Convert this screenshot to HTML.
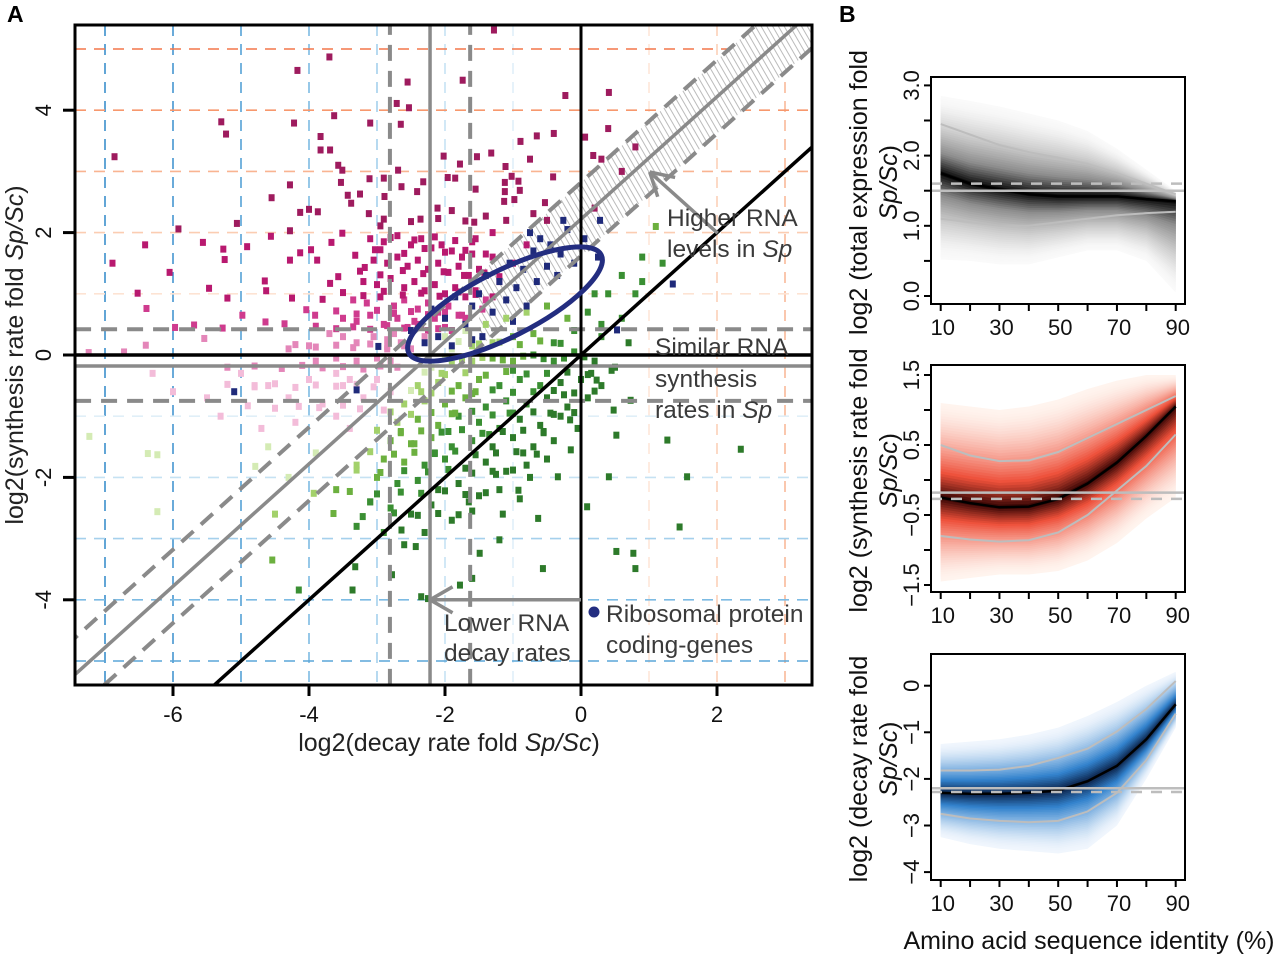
<!DOCTYPE html>
<html><head><meta charset="utf-8">
<style>
html,body{margin:0;padding:0;background:#fff;}
svg{display:block;font-family:"Liberation Sans",Arial,sans-serif;}
</style></head>
<body>
<svg id="fig" width="1280" height="957" viewBox="0 0 1280 957" xmlns="http://www.w3.org/2000/svg">
<defs>
<clipPath id="clipA"><rect x="75" y="25" width="737" height="660"/></clipPath>
<pattern id="hatch" width="5" height="5" patternUnits="userSpaceOnUse" patternTransform="rotate(-30)">
<rect width="5" height="5" fill="#fff"/><line x1="1" y1="0" x2="1" y2="5" stroke="#aaa" stroke-width="0.8"/></pattern>
</defs>
</svg>
<script>
// ---------- Panel A data ----------
const magentaX=[-3.70,-4.17,-2.55,-1.74,-2.71,-2.53,-1.28,-0.23,0.41,-5.29,-5.22,-4.22,-3.63,-3.10,-2.65,-3.83,-3.83,-3.69,-6.86,-3.57,-3.51,-2.02,-1.78,-1.53,-1.32,-0.89,-0.65,-0.40,0.06,0.18,-0.75,-1.11,-1.02,-0.92,-0.41,-1.96,-1.85,-2.69,-2.90,-3.11,-4.28,-3.53,-2.64,-2.32,-2.41,-1.55,-1.12,-1.12,-0.90,-4.55,-3.43,-3.25,-2.89,-3.38,-1.13,-0.98,-0.53,-4.13,-4.00,-3.87,-3.12,-2.11,-1.90,-0.70,-5.06,-5.92,-4.28,-2.95,-2.36,-1.57,-1.40,-5.56,-6.41,-5.26,-5.24,-4.91,-4.56,-3.51,-3.67,-3.97,-4.13,-3.32,-3.18,-3.03,-6.89,-6.05,-5.47,-5.20,-6.52,-6.39,-4.65,-4.63,-4.28,-3.88,-3.80,-3.69,-3.57,-4.98,-4.64,-4.36,-4.04,-3.91,-4.25,-5.97,-5.69,-5.27,-5.54,-6.40,-6.72,-7.24,
-3.1,-2.9,-2.7,-2.5,-2.35,-2.2,-2.05,-1.9,-1.75,-1.6,-3.05,-2.85,-2.7,-2.55,-2.4,-2.25,-2.1,-1.95,-1.8,-1.65,-1.5,-3.2,-3.0,-2.8,-2.6,-2.45,-2.3,-2.15,-2.0,-1.85,-1.7,-1.55,-1.4,-3.35,-3.15,-2.95,-2.75,-2.6,-2.4,-2.25,-2.1,-1.95,-1.8,-3.5,-3.3,-3.1,-2.9,-2.7,-2.55,-2.4,-2.25,-3.7,-3.5,-3.3,-3.05,-2.85,-2.65,-2.5,-4.0,-4.3,-3.9,-3.6,-3.3,-3.0,-2.8,
-5.0,-4.6,-4.3,-4.0,-3.8,-3.5,-3.2,-3.0,-2.9,-3.6,-4.2,-5.5,-6.0,-6.3,-5.3,-4.7,-3.4,-2.8,-1.2,-1.0,-0.8,-0.5,0.2,0.6,0.3,0.4,0.8,-1.3,-1.1,
-2.75,-2.45,-2.0,-1.7,-1.45,-2.6,-2.3,-1.9,-2.15,-2.85,-1.3,-1.6,-3.4,-3.6,-4.8,-5.2,
-2.95,-2.6,-2.3,-2.0,-1.7,-1.4,-3.25,-2.95,-2.62,-2.32,-2.02,-1.72,-1.42,-1.2,-3.5,-3.2,-2.9,-2.62,-2.35,-2.08,-1.8,-1.55,-1.3,
-3.6,-3.3,-3.0,-2.75,-2.5,-2.25,-2.0,-1.75,-3.9,-3.6,-3.35,-3.1,-2.85,-2.6,-2.35,-2.1,-4.2,-3.9,-3.6,-3.35,-3.1,-2.85,-2.6,
-4.8,-4.4,-4.1,-3.8,-3.5,-3.2,-2.95,-2.7,-5.2,-4.8,-4.5,-4.2,-3.9,-3.6,-3.3,-3.05,-4.9,-4.5,-4.15,-3.85,-3.5,-3.25,
-2.8,-2.45,-2.15,-1.85,-1.55,-2.9,-2.5,-2.1,-1.7];
const magentaY=[4.87,4.65,4.46,4.49,4.11,4.04,5.31,4.24,4.29,3.81,3.61,3.79,3.91,3.79,3.77,3.57,3.35,3.35,3.24,3.10,3.02,3.25,3.12,3.24,3.30,3.49,3.58,3.62,3.56,3.26,3.20,3.08,2.92,2.84,2.91,2.90,2.89,3.02,2.89,2.88,2.78,2.82,2.75,2.83,2.67,2.71,2.82,2.67,2.69,2.57,2.61,2.63,2.59,2.48,2.51,2.54,2.49,2.33,2.38,2.34,2.31,2.40,2.36,2.31,2.15,2.06,2.03,2.11,2.22,2.17,2.27,1.84,1.80,1.73,1.56,1.77,1.94,1.99,1.84,1.72,1.67,1.63,1.43,1.72,1.50,1.35,1.09,0.93,1.01,0.76,1.21,1.05,1.55,1.55,0.91,1.17,1.28,0.65,0.54,0.51,0.74,0.65,0.93,0.45,0.49,0.44,0.27,0.16,0.05,0.04,
1.9,1.85,1.95,1.8,1.9,1.75,1.8,1.7,1.6,1.65,1.55,1.5,1.6,1.45,1.55,1.4,1.5,1.35,1.45,1.3,1.4,1.2,1.15,1.25,1.1,1.2,1.05,1.15,1.0,1.1,0.95,1.05,0.9,0.9,0.85,0.95,0.8,0.9,0.75,0.85,0.7,0.8,0.65,0.6,0.55,0.65,0.5,0.6,0.45,0.5,0.4,0.35,0.3,0.2,0.3,0.25,0.2,0.1,0.15,0.1,-0.1,-0.05,-0.1,-0.05,-0.1,
-0.3,-0.5,-0.7,-0.4,-0.8,-0.5,-0.7,-0.4,-0.9,-1.0,-1.1,-0.7,-0.6,-0.3,-1.0,-1.2,-1.2,-0.6,1.2,1.5,1.8,2.2,2.4,3.0,3.2,3.7,3.4,2.0,2.2,
0.35,0.55,0.45,0.6,0.75,0.15,0.3,0.4,0.6,0.1,1.6,1.85,-0.4,-0.3,-0.5,-0.2,
1.72,1.66,1.74,1.68,1.71,1.65,1.37,1.31,1.38,1.33,1.36,1.3,1.34,1.28,1.02,0.97,1.04,0.98,1.01,0.96,1.03,0.99,0.95,
0.72,0.67,0.73,0.68,0.71,0.66,0.7,0.65,0.47,0.43,0.46,0.42,0.48,0.44,0.47,0.43,0.17,0.13,0.16,0.12,0.18,0.14,0.16,
-0.18,-0.22,-0.17,-0.21,-0.19,-0.23,-0.18,-0.2,-0.48,-0.52,-0.47,-0.53,-0.49,-0.51,-0.48,-0.52,-0.83,-0.87,-0.84,-0.86,-0.82,-0.88,
1.92,1.88,1.93,1.87,1.9,2.22,2.18,2.23,2.19];
const greenX=[-7.23,-6.37,-6.23,-6.23,-4.79,-4.54,-4.15,-3.36,-2.35,-2.25,-3.32,-2.78,-1.78,-1.60,-0.56,0.52,0.77,0.80,1.45,2.35,1.27,1.56,0.52,0.41,0.09,-0.16,-0.34,-0.63,-0.92,-1.20,-1.49,-2.43,-2.64,-3.21,-3.64,-3.93,0.23,0.48,0.73,
-2.0,-1.7,-1.4,-1.1,-0.8,-0.5,-0.2,-1.9,-1.6,-1.3,-1.0,-0.7,-0.4,-0.1,0.1,0.4,0.6,0.9,0.8,0.3,1.1,
-2.2,-1.9,-1.6,-1.3,-1.0,-0.7,-0.4,-0.1,0.2,0.5,-2.4,-2.1,-1.8,-1.5,-1.2,-0.9,-0.6,-0.3,0.0,0.3,
-2.6,-2.3,-2.0,-1.7,-1.4,-1.1,-0.8,-0.5,-0.2,0.1,-2.7,-2.4,-2.1,-1.8,-1.5,-1.2,-0.9,-0.6,-0.3,-0.05,
-2.8,-2.5,-2.2,-1.9,-1.6,-1.3,-1.0,-0.7,-0.4,-2.9,-2.6,-2.3,-2.0,-1.7,-1.4,-1.1,-0.8,-0.5,
-3.0,-2.7,-2.4,-2.1,-1.8,-1.5,-1.2,-0.9,-3.1,-2.8,-2.5,-2.2,-1.9,-1.6,-3.3,-2.9,-2.6,-2.3,
-4.6,-4.3,-3.9,-3.6,-3.3,-4.5,-3.1,-2.05,-1.55,-1.05,-0.55,-2.35,-1.85,-1.35,-0.85,-2.65,-2.15,-1.25,-0.75,-0.25,-1.65,-1.15,-2.45,-1.95,-0.45,0.15,-1.0,-0.15,
-1.8,-1.5,-1.2,-0.9,-0.6,-0.3,-2.0,-1.75,-1.45,-1.15,-0.85,-0.55,-0.25,0.05,-2.3,-2.0,-1.7,-1.4,-1.1,-0.8,-0.5,-0.2,0.1,
-2.5,-2.2,-1.9,-1.6,-1.3,-1.0,-0.7,-0.4,-0.1,0.2,-2.8,-2.5,-2.2,-1.9,-1.6,-1.3,-1.0,-0.7,-0.4,-0.1,
-3.0,-2.65,-2.35,-2.05,-1.75,-1.45,-1.15,-0.85,-0.55,-3.1,-2.75,-2.45,-2.15,-1.85,-1.55,-1.25,-0.95,-0.65,
-3.3,-2.95,-2.6,-2.25,-1.95,-1.6,-1.3,-1.0,-3.4,-3.0,-2.65,-2.35,-2.0,-1.7,-1.4,-2.75,-2.4,-2.1,-1.8,
0.3,0.6,0.2,0.9,1.2,0.45,0.7];
const greenY=[-1.33,-1.61,-1.63,-2.56,-1.82,-3.35,-3.84,-3.84,-3.95,-3.98,-3.46,-3.59,-3.76,-3.65,-3.49,-3.21,-3.24,-3.49,-2.81,-1.54,-1.39,-1.99,-1.31,-1.99,-2.48,-1.06,-1.99,-2.67,-2.21,-3.02,-3.24,-3.13,-2.86,-2.64,-2.59,-2.26,-0.41,-0.90,-0.74,
0.3,0.4,0.5,0.6,0.7,0.8,0.6,0.1,0.15,0.2,0.3,0.35,0.2,0.4,0.7,1.0,1.3,1.6,1.0,0.5,2.1,
-0.2,-0.15,-0.1,-0.05,-0.1,0.0,-0.1,0.05,-0.1,-0.2,-0.5,-0.45,-0.5,-0.4,-0.5,-0.4,-0.5,-0.45,-0.4,-0.5,
-0.8,-0.75,-0.8,-0.7,-0.85,-0.75,-0.8,-0.7,-0.85,-0.7,-1.1,-1.05,-1.15,-1.0,-1.1,-1.2,-1.05,-1.15,-1.0,-1.2,
-1.4,-1.45,-1.35,-1.5,-1.4,-1.5,-1.35,-1.5,-1.4,-1.7,-1.75,-1.8,-1.7,-1.85,-1.75,-1.9,-1.8,-1.7,
-2.0,-2.1,-2.05,-2.2,-2.1,-2.3,-2.2,-2.35,-2.4,-2.5,-2.6,-2.45,-2.7,-2.55,-2.8,-2.9,-3.1,-2.9,
-1.5,-2.0,-1.6,-2.2,-1.8,-2.6,-2.4,-0.3,-0.6,-0.95,-1.25,-0.6,-0.95,-1.3,-1.6,-1.25,-1.6,-1.95,-2.0,-0.65,-2.4,-2.6,-1.45,-1.25,-0.95,-0.3,-0.25,-1.55,
0.22,0.18,0.21,0.17,0.23,0.19,-0.03,-0.07,-0.04,-0.08,-0.02,-0.06,-0.05,-0.03,-0.28,-0.32,-0.29,-0.33,-0.27,-0.31,-0.3,-0.28,-0.32,
-0.58,-0.62,-0.59,-0.63,-0.57,-0.61,-0.6,-0.58,-0.62,-0.59,-0.93,-0.97,-0.94,-0.96,-0.92,-0.98,-0.95,-0.93,-0.97,-0.94,
-1.23,-1.27,-1.24,-1.26,-1.22,-1.28,-1.25,-1.23,-1.27,-1.58,-1.62,-1.59,-1.61,-1.57,-1.63,-1.6,-1.58,-1.62,
-1.88,-1.92,-1.89,-1.91,-1.87,-1.93,-1.9,-1.88,-2.23,-2.27,-2.24,-2.26,-2.22,-2.28,-2.25,-2.58,-2.62,-2.59,-2.61,
0.3,0.6,1.0,1.2,1.5,-0.25,0.2];
const riboX=[-2.5,-2.3,-2.1,-2.0,-1.9,-1.7,-1.6,-1.5,-1.45,-1.3,-1.2,-1.1,-1.05,-0.95,-0.85,-0.8,-0.7,-0.65,-0.6,-0.5,-0.45,-0.35,-0.3,-0.2,-0.1,0.05,0.25,-1.85,-1.4,-1.0,-2.2,-0.75,-1.6,-5.1,-3.3,-2.98,1.35,0.53,0.28,-0.26];
const riboY=[0.4,0.2,0.3,0.6,0.15,0.5,0.8,1.0,0.3,0.7,1.2,0.9,1.5,1.1,1.4,0.8,1.7,1.2,1.9,1.45,1.8,1.3,1.65,2.05,1.5,1.9,1.6,0.95,1.3,0.55,0.75,2.0,0.25,-0.6,-0.57,0.14,1.16,0.41,2.2,2.2];
const xTicksA=[-6,-4,-2,0,2];
const yTicksA=[4,2,0,-2,-4];

// ---------- Panel B data ----------
const identity=[10,20,30,40,50,60,70,80,90];
const totMed=[1.75,1.6,1.52,1.45,1.42,1.42,1.42,1.38,1.35];
const totHi=[2.85,2.78,2.7,2.6,2.5,2.35,2.1,1.8,1.5];
const totLo=[0.52,0.5,0.45,0.45,0.55,0.65,0.65,0.5,0.05];
const totQhi=[2.45,2.3,2.15,2.05,1.97,1.88,1.75,1.6,1.45];
const totQlo=[1.1,1.05,1.0,1.0,1.05,1.1,1.15,1.18,1.2];
const synMed=[-0.25,-0.33,-0.39,-0.38,-0.27,-0.05,0.25,0.63,1.05];
const synHi=[1.1,1.05,1.0,1.05,1.15,1.3,1.42,1.5,1.5];
const synLo=[-1.45,-1.4,-1.35,-1.35,-1.3,-1.15,-0.9,-0.55,-0.25];
const synQhi=[0.5,0.35,0.27,0.28,0.4,0.6,0.8,1.0,1.2];
const synQlo=[-0.8,-0.85,-0.88,-0.86,-0.75,-0.5,-0.15,0.2,0.65];
const decMed=[-2.3,-2.32,-2.32,-2.3,-2.25,-2.05,-1.72,-1.15,-0.4];
const decHi=[-1.25,-1.2,-1.15,-1.05,-0.9,-0.65,-0.35,0.0,0.3];
const decLo=[-3.25,-3.4,-3.5,-3.55,-3.6,-3.5,-3.0,-2.0,-0.9];
const decQhi=[-1.82,-1.82,-1.8,-1.72,-1.55,-1.35,-0.98,-0.5,0.1];
const decQlo=[-2.75,-2.85,-2.9,-2.93,-2.9,-2.7,-2.3,-1.6,-0.6];
const totRef=[1.5,1.6];
const synRef=[-0.18,-0.27];
const decRef=[-2.2,-2.28];

const NS='http://www.w3.org/2000/svg';
const svg=document.getElementById('fig');
function mk(tag,attrs,parent){const e=document.createElementNS(NS,tag);for(const k in attrs)e.setAttribute(k,attrs[k]);(parent||svg).appendChild(e);return e;}

// ---------- Panel A ----------
const ax=x=>581+68*x, ay=y=>355-61.2*y;
const X0=-7.44,X1=3.4,Y0=-5.39,Y1=5.39;
const gA=mk('g',{});


const plotA=mk('g',{'clip-path':'url(#clipA)'},gA);



const vBlue=[-7,-6,-5,-4,-3,-2,-1], vBlueC=['#3b8fcc','#4596d0','#55a2d6','#7dbbe3','#a5d0ec','#c6e2f3','#dfeef8'];
vBlue.forEach((v,i)=>{const l=mk('line',{x1:ax(v),x2:ax(v),y1:25,y2:685,stroke:vBlueC[i],'stroke-width':1.6,'stroke-dasharray':'11 8'},plotA);

});
const vOr=[1,2,3], vOrC=['#fde6d8','#fbd0b8','#f8b999'];
vOr.forEach((v,i)=>{const l=mk('line',{x1:ax(v),x2:ax(v),y1:25,y2:685,stroke:vOrC[i],'stroke-width':1.6,'stroke-dasharray':'11 8'},plotA);

});
const hOr=[1,2,3,4,5], hOrC=['#fde3d3','#fbcdb2','#f9b491','#f7986d','#f4774a'];
hOr.forEach((v,i)=>{const l=mk('line',{x1:75,x2:812,y1:ay(v),y2:ay(v),stroke:hOrC[i],'stroke-width':1.6,'stroke-dasharray':'11 8'},plotA);

});
const hBl=[-1,-2,-3,-4,-5], hBlC=['#e0eff8','#c6e2f3','#a5d0ec','#7dbbe3','#5aa6d8'];
hBl.forEach((v,i)=>{const l=mk('line',{x1:75,x2:812,y1:ay(v),y2:ay(v),stroke:hBlC[i],'stroke-width':1.6,'stroke-dasharray':'11 8'},plotA);

});

const off=2.22, bw=0.6, hs=-1.5;
const hatch=mk('polygon',{points:[[hs,hs+off+bw],[X1+1,X1+1+off+bw],[X1+1,X1+1+off-bw],[hs,hs+off-bw]].map(p=>ax(p[0])+','+ay(p[1])).join(' '),fill:'url(#hatch)'},plotA);



function magCol(x,y){return y>2?'#9e1b5e':y>0.9?'#b8196f':y>0.35?'#cf3b8e':y>-0.3?'#e486b9':'#f3bcd9';}
function grnCol(x,y){const g=(x+2.2)-y;return g>2.2?'#2d7a2a':g>1.4?'#3a8f33':g>0.8?'#6cb03f':g>0.3?'#a3d16b':'#d4ebb4';}
const ptsG=mk('g',{},plotA);


magentaX.forEach((x,i)=>{const y=magentaY[i];const r=mk('rect',{x:ax(x)-3,y:ay(y)-3.5,width:6,height:7,fill:magCol(x,y)},ptsG);

});
greenX.forEach((x,i)=>{const y=greenY[i];const r=mk('rect',{x:ax(x)-3,y:ay(y)-3.5,width:6,height:7,fill:grnCol(x,y)},ptsG);

});
riboX.forEach((x,i)=>{const y=riboY[i];const r=mk('rect',{x:ax(x)-3,y:ay(y)-3.5,width:6,height:7,fill:'#1f2a7a'},ptsG);

});

function dline(x1,y1,x2,y2,st,w,dash,name){const l=mk('line',{x1:ax(x1),y1:ay(y1),x2:ax(x2),y2:ay(y2),stroke:st,'stroke-width':w},plotA);if(dash)l.setAttribute('stroke-dasharray',dash);

}
const G='#8a8a8a';
dline(-2.81,Y0,-2.81,Y1,G,4,'16 10','decay-ci-left');
dline(-1.63,Y0,-1.63,Y1,G,4,'16 10','decay-ci-right');
dline(X0,0.42,X1,0.42,G,4,'16 10','synthesis-ci-upper');
dline(X0,-0.75,X1,-0.75,G,4,'16 10','synthesis-ci-lower');
dline(-9,-9+off+bw,5,5+off+bw,G,4,'16 10','expression-ci-upper');
dline(-9,-9+off-bw,5,5+off-bw,G,4,'16 10','expression-ci-lower');
dline(-9,-9+off,5,5+off,G,3.5,null,'expression-median-diagonal');
dline(-2.22,Y0,-2.22,Y1,G,3.5,null,'decay-median-line');
dline(X0,-0.18,X1,-0.18,G,3.5,null,'synthesis-median-line');
dline(-9,-9,5,5,'#000',3.5,null,'identity-diagonal');
dline(0,Y0,0,Y1,'#000',3,null,'zero-decay-line');
dline(X0,0,X1,0,'#000',3.5,null,'zero-synthesis-line');

const ell=mk('ellipse',{cx:505,cy:304,rx:108,ry:33,transform:'rotate(-27 505 304)',fill:'none',stroke:'#232d80','stroke-width':5},plotA);



function arrow(tx,ty,sx,sy,name){const g=mk('g',{stroke:G,'stroke-width':3.5,fill:'none'},gA);


const X=ax(tx),Y=ay(ty),SX=ax(sx),SY=ay(sy);mk('line',{x1:SX,y1:SY,x2:X,y2:Y},g);
const dx=SX-X,dy=SY-Y,L=Math.hypot(dx,dy),ux=dx/L,uy=dy/L,a=Math.PI/6,h=26;
[a,-a].forEach(t=>{const cx=ux*Math.cos(t)-uy*Math.sin(t),cy=ux*Math.sin(t)+uy*Math.cos(t);mk('line',{x1:X,y1:Y,x2:X+cx*h,y2:Y+cy*h},g);});}
arrow(1.01,2.99,2.01,1.99,'higher-rna-arrow');
arrow(-2.22,-4.0,0,-4.0,'lower-decay-arrow');

const fr=mk('rect',{x:75,y:25,width:737,height:660,fill:'none',stroke:'#000','stroke-width':3},gA);


xTicksA.forEach(v=>{const t=mk('line',{x1:ax(v),x2:ax(v),y1:685,y2:696,stroke:'#000','stroke-width':3},gA);


const l=mk('text',{x:ax(v),y:722,'text-anchor':'middle','font-size':22,fill:'#111'},gA);l.textContent=String(v);

});
yTicksA.forEach(v=>{const t=mk('line',{x1:63,x2:75,y1:ay(v),y2:ay(v),stroke:'#000','stroke-width':3},gA);


const l=mk('text',{x:0,y:0,transform:`translate(51 ${ay(v)}) rotate(-90)`,'text-anchor':'middle','font-size':22,fill:'#111'},gA);l.textContent=String(v);

});
</script>
<script>
(function(){
const S=document.getElementById('fig');
function T(x,y,size,html,extra){const t=document.createElementNS('http://www.w3.org/2000/svg','text');t.setAttribute('x',x);t.setAttribute('y',y);t.setAttribute('font-size',size);t.setAttribute('fill','#222');if(extra)for(const k in extra)t.setAttribute(k,extra[k]);t.innerHTML=html;S.appendChild(t);return t;}
let t;
t=T(7,22,23,'A',{'font-weight':'bold',fill:'#000'});


t=T(839,22,23,'B',{'font-weight':'bold',fill:'#000'});


t=T(449,751,25,'log2(decay rate fold <tspan font-style="italic">Sp/Sc</tspan>)',{'text-anchor':'middle'});


t=T(0,0,25,'log2(synthesis rate fold <tspan font-style="italic">Sp/Sc</tspan>)',{'text-anchor':'middle',transform:'translate(23 355) rotate(-90)'});


const ann=[[667,226,'Higher RNA'],[667,257,'levels in <tspan font-style="italic">Sp</tspan>'],[655,355,'Similar RNA'],[655,387,'synthesis'],[655,418,'rates in <tspan font-style="italic">Sp</tspan>'],[444,631,'Lower RNA'],[444,661,'decay rates'],[606,622,'Ribosomal protein'],[606,653,'coding-genes']];
ann.forEach(a=>{t=T(a[0],a[1],24.5,a[2],{fill:'#3a3a3a'});

});
const c=document.createElementNS('http://www.w3.org/2000/svg','circle');c.setAttribute('cx',594);c.setAttribute('cy',612);c.setAttribute('r',5.5);c.setAttribute('fill','#232d80');S.appendChild(c);


})();
</script>
<script>
(function(){
const bx=v=>940.7+(v-10)*2.9375;
const panels=[
 {name:'total-expression',top:77,bot:304,y0:296,k:70.2,med:totMed,hi:totHi,lo:totLo,qh:totQhi,ql:totQlo,ref:totRef,
  ticks:[0,0.5,1,1.5,2,2.5,3],labs:[0,1,2,3],fmt:v=>v.toFixed(1),
  cols:[[250,250,250],[140,140,140],[0,0,0]],t1:'log2 (total expression fold'},
 {name:'synthesis-rate',top:365,bot:592,y0:480,k:70,med:synMed,hi:synHi,lo:synLo,qh:synQhi,ql:synQlo,ref:synRef,
  ticks:[-1.5,-1,-0.5,0,0.5,1,1.5],labs:[-1.5,-0.5,0.5,1.5],fmt:v=>(v<0?'\u2212':'')+Math.abs(v).toFixed(1),
  cols:[[255,244,238],[238,80,58],[40,0,0]],t1:'log2 (synthesis rate fold'},
 {name:'decay-rate',top:654,bot:880,y0:685.7,k:46.6,med:decMed,hi:decHi,lo:decLo,qh:decQhi,ql:decQlo,ref:decRef,
  ticks:[-4,-3,-2,-1,0],labs:[-4,-3,-2,-1,0],fmt:v=>(v<0?'\u2212':'')+Math.abs(v),
  cols:[[240,246,253],[50,130,205],[8,25,60]],t1:'log2 (decay rate fold'}];
const S=document.getElementById('fig');const NS='http://www.w3.org/2000/svg';
function mk(tag,attrs,parent){const e=document.createElementNS(NS,tag);for(const k in attrs)e.setAttribute(k,attrs[k]);(parent||S).appendChild(e);return e;}
function lerp(a,b,t){return a.map((v,i)=>Math.round(v+(b[i]-v)*t));}
panels.forEach(p=>{
 const by=v=>p.y0-p.k*v;
 const g=mk('g',{});
 
 
 const N=36;
 for(let j=N;j>=1;j--){const f=j/N;const t=Math.pow(1-f,1.6);
  const c=t<0.6?lerp(p.cols[0],p.cols[1],t/0.6):lerp(p.cols[1],p.cols[2],(t-0.6)/0.4);
  const up=identity.map((x,i)=>bx(x)+','+by(p.med[i]+(p.hi[i]-p.med[i])*f));
  const dn=identity.map((x,i)=>bx(x)+','+by(p.med[i]+(p.lo[i]-p.med[i])*f)).reverse();
  const poly=mk('polygon',{points:up.concat(dn).join(' '),fill:`rgb(${c[0]},${c[1]},${c[2]})`},g);
  
  }
 [p.qh,p.ql].forEach(q=>{const l=mk('polyline',{points:identity.map((x,i)=>bx(x)+','+by(q[i])).join(' '),fill:'none',stroke:'#bdbdbd','stroke-width':2},g);
  
  });
 const m=mk('polyline',{points:identity.map((x,i)=>bx(x)+','+by(p.med[i])).join(' '),fill:'none',stroke:'#000','stroke-width':2.5},g);
 
 
 const r1=mk('line',{x1:931,x2:1185,y1:by(p.ref[0]),y2:by(p.ref[0]),stroke:'#bdbdbd','stroke-width':2.5},g);
 
 
 const r2=mk('line',{x1:931,x2:1185,y1:by(p.ref[1]),y2:by(p.ref[1]),stroke:'#bdbdbd','stroke-width':2.5,'stroke-dasharray':'11 9'},g);
 
 
 const fr=mk('rect',{x:931,y:p.top,width:254,height:p.bot-p.top,fill:'none',stroke:'#000','stroke-width':2},g);
 
 
 p.ticks.forEach(v=>{const t=mk('line',{x1:924,x2:931,y1:by(v),y2:by(v),stroke:'#000','stroke-width':2},g);
  
  });
 p.labs.forEach(v=>{const l=mk('text',{transform:`translate(919 ${by(v)}) rotate(-90)`,'text-anchor':'middle','font-size':22,fill:'#111'},g);l.textContent=p.fmt(v);
  
  });
 identity.forEach(v=>{const t=mk('line',{x1:bx(v),x2:bx(v),y1:p.bot,y2:p.bot+7,stroke:'#000','stroke-width':2},g);
  
  });
 [10,30,50,70,90].forEach(v=>{const l=mk('text',{x:bx(v)+2,y:p.bot+31,'text-anchor':'middle','font-size':22,fill:'#111'},g);l.textContent=String(v);
  
  });
 const cy=(p.top+p.bot)/2+2;
 const t1=mk('text',{transform:`translate(867 ${cy}) rotate(-90)`,'text-anchor':'middle','font-size':25,fill:'#111'},g);t1.textContent=p.t1;
 
 
 const t2=mk('text',{transform:`translate(897 ${cy-10}) rotate(-90)`,'text-anchor':'middle','font-size':25,fill:'#111'},g);t2.innerHTML='<tspan font-style="italic">Sp/Sc</tspan>)';
 
 
});
const xt=mk('text',{x:1089,y:949,'text-anchor':'middle','font-size':25,fill:'#111'});xt.textContent='Amino acid sequence identity (%)';


})();
</script>
</body></html>
